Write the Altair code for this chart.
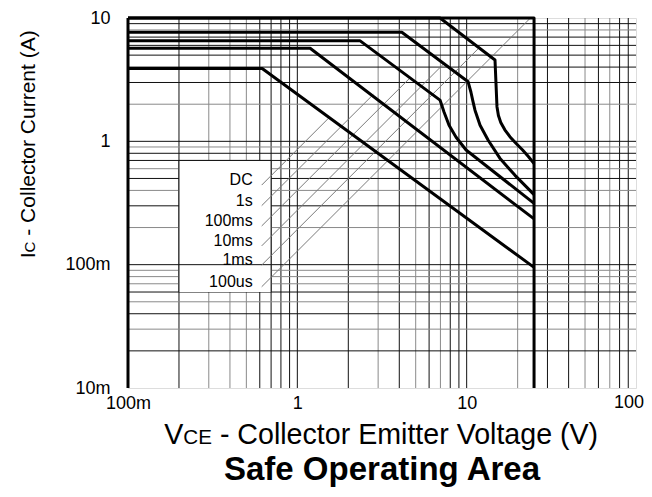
import altair as alt
import pandas as pd

# ---------------- data ----------------
x_tick_values = [0.1, 1, 10]
x_tick_labels = ["100m", "1", "10"]
x_last_tick_value = 100
x_last_tick_label = "100"
y_tick_values = [0.01, 0.1, 1, 10]
y_tick_labels = ["10m", "100m", "1", "10"]

grid_x_dark = [0.2, 0.6, 0.7, 0.8, 0.9, 1, 2, 4, 6, 8, 9, 10, 30, 40, 60, 80, 90]
grid_x_light = [0.3, 0.4, 0.5, 3, 5, 7, 20, 50, 70]
grid_y_dark = [0.02, 0.04, 0.06, 0.1, 0.3, 0.5, 0.7, 0.8, 1, 3, 4, 5, 6, 7, 9]
grid_y_light = [0.03, 0.05, 0.07, 0.08, 0.09, 0.2, 0.4, 0.6, 0.9, 2, 8]

# SOA limit curves (V, A)
dc_v = [0.1, 0.62, 25]
dc_i = [3.9, 3.9, 0.095]
s1_v = [0.1, 1.19, 25]
s1_i = [5.68, 5.68, 0.235]
ms100_v = [0.1, 2.34, 6.96, 7.35, 7.87, 8.66, 9.92, 25]
ms100_i = [6.55, 6.55, 2.16, 1.73, 1.35, 1.08, 0.85, 0.314]
ms10_v = [0.1, 4.14, 10.2, 10.6, 10.9, 11.2, 12.0, 13.4, 15.7, 19.3, 25]
ms10_i = [7.66, 7.66, 3.04, 2.5, 2.1, 1.79, 1.35, 1.02, 0.73, 0.53, 0.37]
ms1_v = [0.1, 6.96, 14.7, 15.1, 15.4, 15.9, 16.8, 18.0, 19.6, 21.4, 23.2, 25]
ms1_i = [10, 10, 4.56, 1.91, 1.62, 1.42, 1.24, 1.09, 0.96, 0.85, 0.75, 0.66]
us100_v = [0.1, 25, 25]
us100_i = [10, 10, 0.01]

curve_names = ["DC", "1s", "100ms", "10ms", "1ms", "100us"]
curve_v = [dc_v, s1_v, ms100_v, ms10_v, ms1_v, us100_v]
curve_i = [dc_i, s1_i, ms100_i, ms10_i, ms1_i, us100_i]

# legend labels and leader lines
label_x = 0.545
label_y = [0.485, 0.330, 0.226, 0.156, 0.109, 0.0726]
leader_x0 = 0.616
leader_y0 = [0.442, 0.301, 0.206, 0.142, 0.0993, 0.0662]
leader_x1 = [1.55, 2.81, 4.66, 7.38, 11.9, 23.8]
leader_y1 = [1.57, 2.40, 3.30, 4.30, 5.77, 10.0]

box_x = [0.2, 0.7]
box_y = [0.06, 0.7]

x_title_main = "V"
x_title_sub = "CE"
x_title_rest = "-\u00a0Collector Emitter Voltage (V)"
y_title_main = "I"
y_title_sub = "C"
y_title_rest = "-\u00a0Collector Current (A)"
chart_title = "Safe Operating Area"

# ---------------- build tables ----------------
rows = []
for name, vs, cs in zip(curve_names, curve_v, curve_i):
    for k, (v, c) in enumerate(zip(vs, cs)):
        rows.append({"curve": name, "k": k, "v": v, "i": c})
curves = pd.DataFrame(rows)

grid_v = pd.DataFrame({"v": grid_x_dark + grid_x_light,
                       "tone": ["d"] * len(grid_x_dark) + ["l"] * len(grid_x_light)})
grid_h = pd.DataFrame({"i": grid_y_dark + grid_y_light,
                       "tone": ["d"] * len(grid_y_dark) + ["l"] * len(grid_y_light)})
labels = pd.DataFrame({"name": curve_names, "v": [label_x] * 6, "i": label_y})
leaders = pd.DataFrame({"v": [leader_x0] * 6, "i": leader_y0,
                        "v2": leader_x1, "i2": leader_y1})
box = pd.DataFrame({"v": [box_x[0]], "v2": [box_x[1]], "i": [box_y[0]], "i2": [box_y[1]]})
box_vedges = pd.DataFrame({"v": box_x, "i": [box_y[0]] * 2, "i2": [box_y[1]] * 2})
box_hedges = pd.DataFrame({"i": [0.1, box_y[1]], "v": [box_x[0]] * 2, "v2": [box_x[1]] * 2})
last_tick = pd.DataFrame({"v": [x_last_tick_value], "t": [x_last_tick_label]})

W, H = 508, 370
FONT = "Liberation Sans"


def label_expr(vals, labs):
    e = "''"
    for v, l in zip(vals, labs):
        e = f"abs(datum.value - {v}) < {v * 1e-3} ? '{l}' : " + e
    return e


xscale = alt.Scale(type="log", domain=[0.1, 100], nice=False)
yscale = alt.Scale(type="log", domain=[0.01, 10], nice=False)
xaxis = alt.Axis(values=x_tick_values, labelExpr=label_expr(x_tick_values, x_tick_labels),
                 grid=False, ticks=False, domain=False, title=None, labelFont=FONT,
                 labelFontSize=18, labelColor="black", labelPadding=6, labelFlush=False)
yaxis = alt.Axis(values=y_tick_values, labelExpr=label_expr(y_tick_values, y_tick_labels),
                 grid=False, ticks=False, domain=False, title=None, labelFont=FONT,
                 labelFontSize=18, labelColor="black", labelPadding=18)


def X(f="v"):
    return alt.X(f"{f}:Q", scale=xscale, axis=xaxis)


def Y(f="i"):
    return alt.Y(f"{f}:Q", scale=yscale, axis=yaxis)


tone_color = alt.Color("tone:N", scale=alt.Scale(domain=["d", "l"], range=["#111111", "#8a8a8a"]), legend=None)

vgrid = alt.Chart(grid_v).mark_rule(strokeWidth=1).encode(x=X(), color=tone_color)
hgrid = alt.Chart(grid_h).mark_rule(strokeWidth=1).encode(y=Y(), color=tone_color)

box_layer = alt.Chart(box).mark_rect(color="white", opacity=1).encode(
    x=X(), x2="v2:Q", y=Y(), y2="i2:Q")
box_v = alt.Chart(box_vedges).mark_rule(color="#111111", strokeWidth=1).encode(
    x=X(), y=Y(), y2="i2:Q")
box_h = alt.Chart(box_hedges).mark_rule(color="#111111", strokeWidth=1).encode(
    y=Y(), x=X(), x2="v2:Q")

leader_layer = alt.Chart(leaders).mark_rule(color="#7a7a7a", strokeWidth=1).encode(
    x=X(), x2="v2:Q", y=Y(), y2="i2:Q")

curve_layer = alt.Chart(curves).mark_line(color="black", strokeWidth=3, strokeJoin="round",
                                           clip=False).encode(
    x=X(), y=Y(), detail="curve:N", order="k:Q")

label_layer = alt.Chart(labels).mark_text(align="right", baseline="middle", font=FONT,
                                          fontSize=16, color="black").encode(
    x=X(), y=Y(), text="name:N")

last_tick_layer = alt.Chart(last_tick).mark_text(
    align="right", baseline="top", font=FONT, fontSize=18, color="black", dx=8, dy=6).encode(
    x=X(), y=alt.value(H), text="t:N")

# titles -------------------------------------------------------------
fx = 28.6
sub_k = 0.72
gap = 0.278
wx = (0.667 + sub_k * (0.722 + 0.667) + gap + 13.281) * fx
x0 = W / 2 - wx / 2
ty = 426
t1 = alt.Chart(pd.DataFrame({"t": [x_title_main]})).mark_text(
    align="left", baseline="alphabetic", font=FONT, fontSize=fx, color="black").encode(
    text="t:N", x=alt.value(x0), y=alt.value(ty))
t2 = alt.Chart(pd.DataFrame({"t": [x_title_sub]})).mark_text(
    align="left", baseline="alphabetic", font=FONT, fontSize=fx * sub_k, color="black").encode(
    text="t:N", x=alt.value(x0 + 0.667 * fx), y=alt.value(ty))
t3 = alt.Chart(pd.DataFrame({"t": [x_title_rest]})).mark_text(
    align="left", baseline="alphabetic", font=FONT, fontSize=fx, color="black").encode(
    text="t:N", x=alt.value(x0 + 0.667 * fx + sub_k * (0.722 + 0.667) * fx + gap * fx), y=alt.value(ty))

fy = 21
wy = (0.278 + sub_k * 0.722 + gap + 10.0) * fy
ys = 124 + wy / 2
tx = -93
u1 = alt.Chart(pd.DataFrame({"t": [y_title_main]})).mark_text(
    align="left", baseline="alphabetic", angle=270, font=FONT, fontSize=fy, color="black").encode(
    text="t:N", x=alt.value(tx), y=alt.value(ys))
u2 = alt.Chart(pd.DataFrame({"t": [y_title_sub]})).mark_text(
    align="left", baseline="alphabetic", angle=270, font=FONT, fontSize=fy * sub_k, color="black").encode(
    text="t:N", x=alt.value(tx), y=alt.value(ys - 0.278 * fy))
u3 = alt.Chart(pd.DataFrame({"t": [y_title_rest]})).mark_text(
    align="left", baseline="alphabetic", angle=270, font=FONT, fontSize=fy, color="black").encode(
    text="t:N", x=alt.value(tx), y=alt.value(ys - 0.278 * fy - sub_k * 0.722 * fy - gap * fy))

main_t = alt.Chart(pd.DataFrame({"t": [chart_title]})).mark_text(
    align="center", baseline="alphabetic", font=FONT, fontSize=33, fontWeight="bold",
    color="black").encode(text="t:N", x=alt.value(W / 2), y=alt.value(462))

left_border = alt.Chart(pd.DataFrame({"v": [0.1]})).mark_rule(color="black", strokeWidth=3).encode(x=X())

chart = alt.layer(
    vgrid, hgrid, box_layer, box_v, box_h, leader_layer, curve_layer, left_border,
    label_layer, last_tick_layer, t1, t2, t3, u1, u2, u3, main_t
).properties(
    width=W, height=H,
    autosize=alt.AutoSizeParams(type="none"),
    padding={"left": 120, "top": 10, "right": 8, "bottom": 100},
).configure_view(stroke="black", strokeWidth=2.5).configure(background="white")

chart.save("out.html", embed_options={"renderer": "svg", "actions": False})
